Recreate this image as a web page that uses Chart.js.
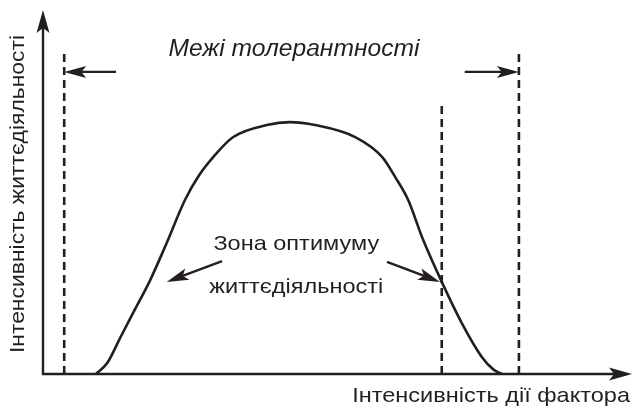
<!DOCTYPE html>
<html>
<head>
<meta charset="utf-8">
<script src="https://cdn.jsdelivr.net/npm/chart.js@4"></script>
<style>
  html, body { margin: 0; padding: 0; background: #fff; }
  #wrap { width: 635px; height: 408px; }
</style>
</head>
<body>
<div id="wrap"><canvas id="myChart"></canvas></div>
<script>
// curve of the tolerance / optimum zone (x: factor intensity, y: vital activity), 0..100 units
const curve_x = [9.0, 10.9, 13.0, 15.3, 18.2, 21.0, 24.1, 26.5, 28.9, 32.3, 38.0, 41.9, 46.2, 53.0, 57.6, 59.8, 62.0, 64.5, 67.7, 71.1, 74.5, 76.5, 77.9];
const curve_y = [0, 3.0, 9.6, 16.8, 25.8, 36.0, 47.8, 54.6, 59.6, 65.1, 68.4, 69.2, 68.4, 65.1, 59.6, 54.1, 47.8, 37.0, 25.3, 14.0, 4.7, 1.2, 0];

// vertical dashed lines: x position and height
const limit_x = [3.6, 67.7, 80.8];
const limit_top = [88.7, 74.5, 88.7];

// arrows: [x from, y from, x to, y to]
const arrows = [
    [12.4, 83.0, 3.6, 83.0],
    [71.6, 83.0, 80.8, 83.0],
    [30.4, 31.0, 21.0, 25.3],
    [58.4, 30.8, 67.4, 25.3]
];

const title_text = 'Межі толерантності';
const zone_text = ['Зона оптимуму', 'життєдіяльності'];
const x_title = 'Інтенсивність дії фактора';
const y_title = 'Інтенсивність життєдіяльності';

const curvePoints = curve_x.map(function(x, i) {
    return { x: x, y: curve_y[i] };
});

const dashedSets = limit_x.map(function(x, i) {
    return {
        data: [{ x: x, y: 0 }, { x: x, y: limit_top[i] }],
        borderColor: '#231f20',
        borderWidth: 2.6,
        borderDash: [8, 5],
        pointRadius: 0,
        fill: false
    };
});

function arrowHead(ctx, x1, y1, x2, y2, len, wid) {
    const a = Math.atan2(y2 - y1, x2 - x1);
    ctx.save();
    ctx.translate(x2, y2);
    ctx.rotate(a);
    ctx.beginPath();
    ctx.moveTo(0, 0);
    ctx.lineTo(-len, -wid / 2);
    ctx.lineTo(-len * 0.78, 0);
    ctx.lineTo(-len, wid / 2);
    ctx.closePath();
    ctx.fill();
    ctx.restore();
}

// text stretched a bit wider, like the original drawing
function wideText(ctx, text, x, y, stretch) {
    ctx.save();
    ctx.translate(x, y);
    ctx.scale(stretch, 1);
    ctx.fillText(text, 0, 0);
    ctx.restore();
}

const drawExtras = {
    id: 'drawExtras',
    afterDatasetsDraw(chart) {
        const ctx = chart.ctx;
        const xs = chart.scales.x;
        const ys = chart.scales.y;
        const px = v => xs.getPixelForValue(v);
        const py = v => ys.getPixelForValue(v);
        ctx.save();
        ctx.strokeStyle = '#231f20';
        ctx.fillStyle = '#231f20';

        // axes
        ctx.lineWidth = 2.4;
        ctx.beginPath();
        ctx.moveTo(px(0), py(100) + 10);
        ctx.lineTo(px(0), py(0));
        ctx.lineTo(px(100) - 10, py(0));
        ctx.stroke();
        arrowHead(ctx, px(0), py(0), px(0), py(100), 23, 13);
        arrowHead(ctx, px(0), py(0), px(100), py(0), 23, 13);

        // arrows
        ctx.lineWidth = 2.4;
        arrows.forEach(function(a) {
            const x1 = px(a[0]), y1 = py(a[1]), x2 = px(a[2]), y2 = py(a[3]);
            const ang = Math.atan2(y2 - y1, x2 - x1);
            ctx.beginPath();
            ctx.moveTo(x1, y1);
            ctx.lineTo(x2 - Math.cos(ang) * 12, y2 - Math.sin(ang) * 12);
            ctx.stroke();
            arrowHead(ctx, x1, y1, x2, y2, 22, 12);
        });

        // texts
        ctx.textAlign = 'center';
        ctx.textBaseline = 'middle';
        ctx.font = 'italic 23px "Liberation Sans", Arial, sans-serif';
        wideText(ctx, title_text, px(42.6), py(89.0), 1.07);
        ctx.font = '21px "Liberation Sans", Arial, sans-serif';
        wideText(ctx, zone_text[0], px(43.0), py(35.7), 1.12);
        wideText(ctx, zone_text[1], px(43.0), py(23.9), 1.12);
        ctx.textAlign = 'right';
        wideText(ctx, x_title, px(100) - 2, py(0) + 22, 1.12);

        ctx.translate(px(0) - 25, (py(0) + py(100)) / 2 + 2);
        ctx.rotate(-Math.PI / 2);
        ctx.textAlign = 'center';
        wideText(ctx, y_title, 0, 0, 1.09);
        ctx.restore();
    }
};

const canvas = document.getElementById('myChart');
const ctx = canvas.getContext('2d');
const config = {
    type: 'line',
    data: {
        datasets: [{
            data: curvePoints,
            borderColor: '#231f20',
            borderWidth: 2.6,
            pointRadius: 0,
            cubicInterpolationMode: 'monotone',
            fill: false
        }].concat(dashedSets)
    },
    options: {
        responsive: true,
        maintainAspectRatio: false,
        animation: false,
        layout: {
            padding: { left: 43, top: 10, right: 3, bottom: 34 }
        },
        plugins: {
            legend: { display: false },
            tooltip: { enabled: false }
        },
        scales: {
            x: { type: 'linear', min: 0, max: 100, display: false },
            y: { type: 'linear', min: 0, max: 100, display: false }
        }
    },
    plugins: [drawExtras]
};
const myChart = new Chart(ctx, config);
</script>
</body>
</html>
